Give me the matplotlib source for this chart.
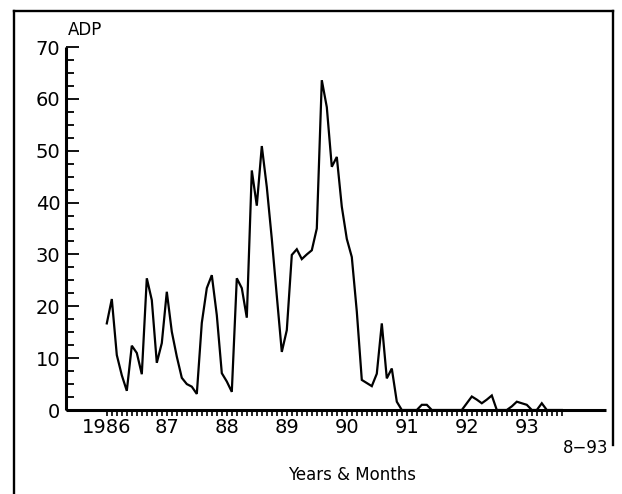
import matplotlib
matplotlib.use("Agg")
import matplotlib.pyplot as plt
from matplotlib.ticker import FixedLocator, MultipleLocator
from matplotlib.lines import Line2D

# Monthly ADP values, Jan 1986 .. Aug 1993
start_year = 1986
adp = [16.7, 21.4, 10.6, 6.7, 3.7, 12.4, 11.0, 6.9, 25.4, 21.2, 9.1, 12.9,
       22.8, 15.1, 10.3, 6.2, 5.0, 4.5, 3.1, 16.8, 23.5, 26.0, 18.3, 7.1,
       5.5, 3.5, 25.4, 23.5, 17.8, 46.2, 39.4, 50.9, 43.0, 33.0, 22.0, 11.2,
       15.4, 29.9, 31.0, 29.1, 30.0, 30.8, 35.0, 63.6, 58.4, 46.9, 48.8, 39.2,
       33.0, 29.5, 19.0, 5.8, 5.2, 4.6, 7.0, 16.7, 6.1, 8.0, 1.6, 0.0,
       0.0, 0.0, 0.0, 1.0, 1.0, 0.0, 0.0, 0.0, 0.0, 0.0, 0.0, 0.0,
       1.3, 2.6, 2.0, 1.3, 2.0, 2.8, 0.0, 0.0, 0.0, 0.7, 1.6, 1.3,
       1.0, 0.0, 0.0, 1.3, 0.0, 0.0, 0.0, 0.0]
year_ticks = [1986, 1987, 1988, 1989, 1990, 1991, 1992, 1993]
year_labels = ["1986", "87", "88", "89", "90", "91", "92", "93"]
y_ticks = [0, 10, 20, 30, 40, 50, 60, 70]

x = [start_year + i / 12 for i in range(len(adp))]
month_ticks = [start_year + i / 12 for i in range(len(adp))]

W, H = 622, 494
fig = plt.figure(figsize=(W / 100, H / 100), dpi=100)
ax = fig.add_axes([66 / W, 1 - 410 / H, (606 - 66) / W, (410 - 47) / H])

ax.plot(x, adp, color="black", lw=1.6, solid_joinstyle="miter")

ax.set_xlim(1985.32, 1994.32)
ax.set_ylim(0, 70)

for s in ["top", "right"]:
    ax.spines[s].set_visible(False)
for s in ["left", "bottom"]:
    ax.spines[s].set_linewidth(2.2)
    ax.spines[s].set_capstyle("butt")

ax.set_yticks(y_ticks)
ax.set_yticklabels([str(v) for v in y_ticks], fontsize=14)
ax.yaxis.set_minor_locator(MultipleLocator(2.5))
ax.tick_params(axis="y", which="major", direction="in", length=9.5, width=1.3, pad=4)
ax.tick_params(axis="y", which="minor", direction="in", length=5.5, width=1.3)

ax.set_xticks(year_ticks)
ax.set_xticklabels(year_labels, fontsize=14)
ax.xaxis.set_minor_locator(FixedLocator(month_ticks))
ax.tick_params(axis="x", which="both", direction="out", length=4.5, width=1.2, pad=1)

fig.text(85 / W, 1 - 30 / H, "ADP", fontsize=12, ha="center", va="center")
fig.text(586 / W, 1 - 448 / H, "8\u221293", fontsize=12, ha="center", va="center")
fig.text(352 / W, 1 - 475 / H, "Years & Months", fontsize=12, ha="center", va="center")

# scanned page frame: top, left (to page bottom), right (stops above the bottom)
L, R, T = 13.5 / W, 613 / W, 1 - 11 / H
frame_kw = dict(transform=fig.transFigure, color="black", lw=1.7,
                solid_capstyle="projecting")
fig.lines.append(Line2D([L, R], [T, T], **frame_kw))
fig.lines.append(Line2D([L, L], [T, -0.01], **frame_kw))
fig.lines.append(Line2D([R, R], [T, 1 - 445 / H], **frame_kw))

fig.savefig("out.png", dpi=100, facecolor="white")
